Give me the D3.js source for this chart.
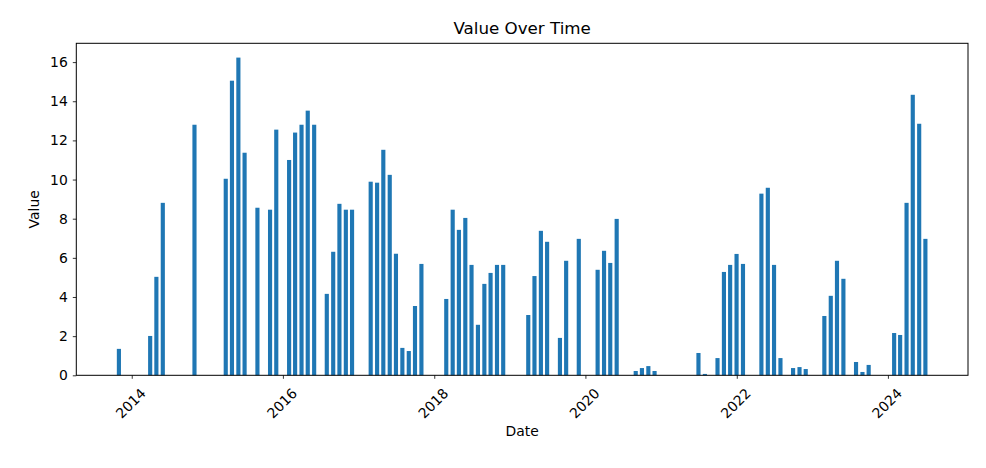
<!DOCTYPE html>
<html>
<head>
<meta charset="utf-8">
<script src="https://cdn.jsdelivr.net/npm/d3@7"></script>
<style>
  html, body { margin: 0; padding: 0; background: #fff; }
  svg { display: block; font-family: "DejaVu Sans", sans-serif; }
</style>
</head>
<body>
<svg id="chart" width="986" height="468"></svg>
<script>
// ---- data (monthly, month-end dates) ----
const months = [
  "2013-10","2014-03","2014-04","2014-05","2014-10",
  "2015-03","2015-04","2015-05","2015-06","2015-08","2015-10","2015-11",
  "2016-01","2016-02","2016-03","2016-04","2016-05","2016-07","2016-08","2016-09","2016-10","2016-11",
  "2017-02","2017-03","2017-04","2017-05","2017-06","2017-07","2017-08","2017-09","2017-10",
  "2018-02","2018-03","2018-04","2018-05","2018-06","2018-07","2018-08","2018-09","2018-10","2018-11",
  "2019-03","2019-04","2019-05","2019-06","2019-08","2019-09","2019-11",
  "2020-02","2020-03","2020-04","2020-05","2020-08","2020-09","2020-10","2020-11",
  "2021-06","2021-07","2021-09","2021-10","2021-11","2021-12",
  "2022-01","2022-04","2022-05","2022-06","2022-07","2022-09","2022-10","2022-11",
  "2023-02","2023-03","2023-04","2023-05","2023-07","2023-08","2023-09",
  "2024-01","2024-02","2024-03","2024-04","2024-05","2024-06"
];
const values = [
  1.35, 2.01, 5.03, 8.81, 12.80,
  10.04, 15.05, 16.23, 11.37, 8.56, 8.46, 12.55,
  11.00, 12.40, 12.80, 13.52, 12.80, 4.16, 6.31, 8.76, 8.46, 8.46,
  9.89, 9.84, 11.52, 10.24, 6.21, 1.40, 1.24, 3.54, 5.69,
  3.90, 8.46, 7.43, 8.04, 5.64, 2.58, 4.67, 5.23, 5.64, 5.64,
  3.08, 5.07, 7.38, 6.82, 1.91, 5.85, 6.97,
  5.39, 6.36, 5.74, 7.99, 0.22, 0.37, 0.47, 0.22,
  1.14, 0.07, 0.88, 5.28, 5.64, 6.20,
  5.69, 9.28, 9.58, 5.64, 0.88, 0.37, 0.42, 0.32,
  3.03, 4.06, 5.85, 4.93, 0.68, 0.17, 0.53,
  2.16, 2.06, 8.81, 14.33, 12.85, 6.97
];
const yTicks = [0, 2, 4, 6, 8, 10, 12, 14, 16];
const xTickYears = [2014, 2016, 2018, 2020, 2022, 2024];
const title = "Value Over Time";
const xLabel = "Date";
const yLabel = "Value";

// ---- layout ----
const W = 986, H = 468;
const M = { left: 76.3, top: 43.3, right: 968, bottom: 375.3 };
const DAY = 86400000;
const barWidthDays = 20;
const color = "#1f77b4";
const fs = 13.9;

const monthEnd = s => { const [y, m] = s.split("-").map(Number); return new Date(Date.UTC(y, m, 0)); };
const data = months.map((m, i) => ({ date: monthEnd(m), value: values[i] }));

const minT = d3.min(data, d => +d.date) - barWidthDays / 2 * DAY;
const maxT = d3.max(data, d => +d.date) + barWidthDays / 2 * DAY;
const pad = (maxT - minT) * 0.05;

const x = d3.scaleUtc().domain([new Date(minT - pad), new Date(maxT + pad)]).range([M.left, M.right]);
const yMax = d3.max(values) * 1.045;
const y = d3.scaleLinear().domain([0, yMax]).range([M.bottom, M.top]);

const svg = d3.select("#chart");
svg.append("rect").attr("width", W).attr("height", H).attr("fill", "#fff");

// bars
svg.append("g").selectAll("rect").data(data).join("rect")
  .attr("x", d => x(new Date(+d.date - barWidthDays / 2 * DAY)))
  .attr("width", d => x(new Date(+d.date + barWidthDays / 2 * DAY)) - x(new Date(+d.date - barWidthDays / 2 * DAY)))
  .attr("y", d => y(d.value))
  .attr("height", d => y(0) - y(d.value))
  .attr("fill", color);

// frame
svg.append("rect")
  .attr("x", M.left).attr("y", M.top)
  .attr("width", M.right - M.left).attr("height", M.bottom - M.top)
  .attr("fill", "none").attr("stroke", "#000").attr("stroke-width", 1);

// y axis
const yAxis = d3.axisLeft(y).tickValues(yTicks).tickSize(3.5).tickPadding(5).tickFormat(d3.format("d"));
const gy = svg.append("g").attr("transform", `translate(${M.left},0)`).call(yAxis);
gy.select(".domain").remove();
gy.selectAll("line").attr("stroke", "#000").attr("stroke-width", 0.8);
gy.selectAll("text").attr("font-size", fs).attr("fill", "#000").attr("font-family", "DejaVu Sans");

// x axis
const xTicks = xTickYears.map(yr => new Date(Date.UTC(yr, 0, 1)));
const xAxis = d3.axisBottom(x).tickValues(xTicks).tickSize(3.5).tickFormat(d3.utcFormat("%Y"));
const gx = svg.append("g").attr("transform", `translate(0,${M.bottom})`).call(xAxis);
gx.select(".domain").remove();
gx.selectAll("line").attr("stroke", "#000").attr("stroke-width", 0.8);
gx.selectAll("text")
  .attr("font-size", fs).attr("fill", "#000").attr("font-family", "DejaVu Sans")
  .attr("y", 0).attr("dy", null)
  .attr("text-anchor", "middle").attr("dominant-baseline", "central")
  .attr("transform", "translate(-1.5,28) rotate(-45)");

// title and labels
svg.append("text").attr("x", (M.left + M.right) / 2).attr("y", 34.3)
  .attr("text-anchor", "middle").attr("font-size", 16.7).attr("fill", "#000").text(title);
svg.append("text").attr("x", (M.left + M.right) / 2).attr("y", 436)
  .attr("text-anchor", "middle").attr("font-size", fs).attr("fill", "#000").text(xLabel);
svg.append("text")
  .attr("transform", `translate(38.5,${(M.top + M.bottom) / 2}) rotate(-90)`)
  .attr("text-anchor", "middle").attr("font-size", fs).attr("fill", "#000").text(yLabel);
</script>
</body>
</html>
